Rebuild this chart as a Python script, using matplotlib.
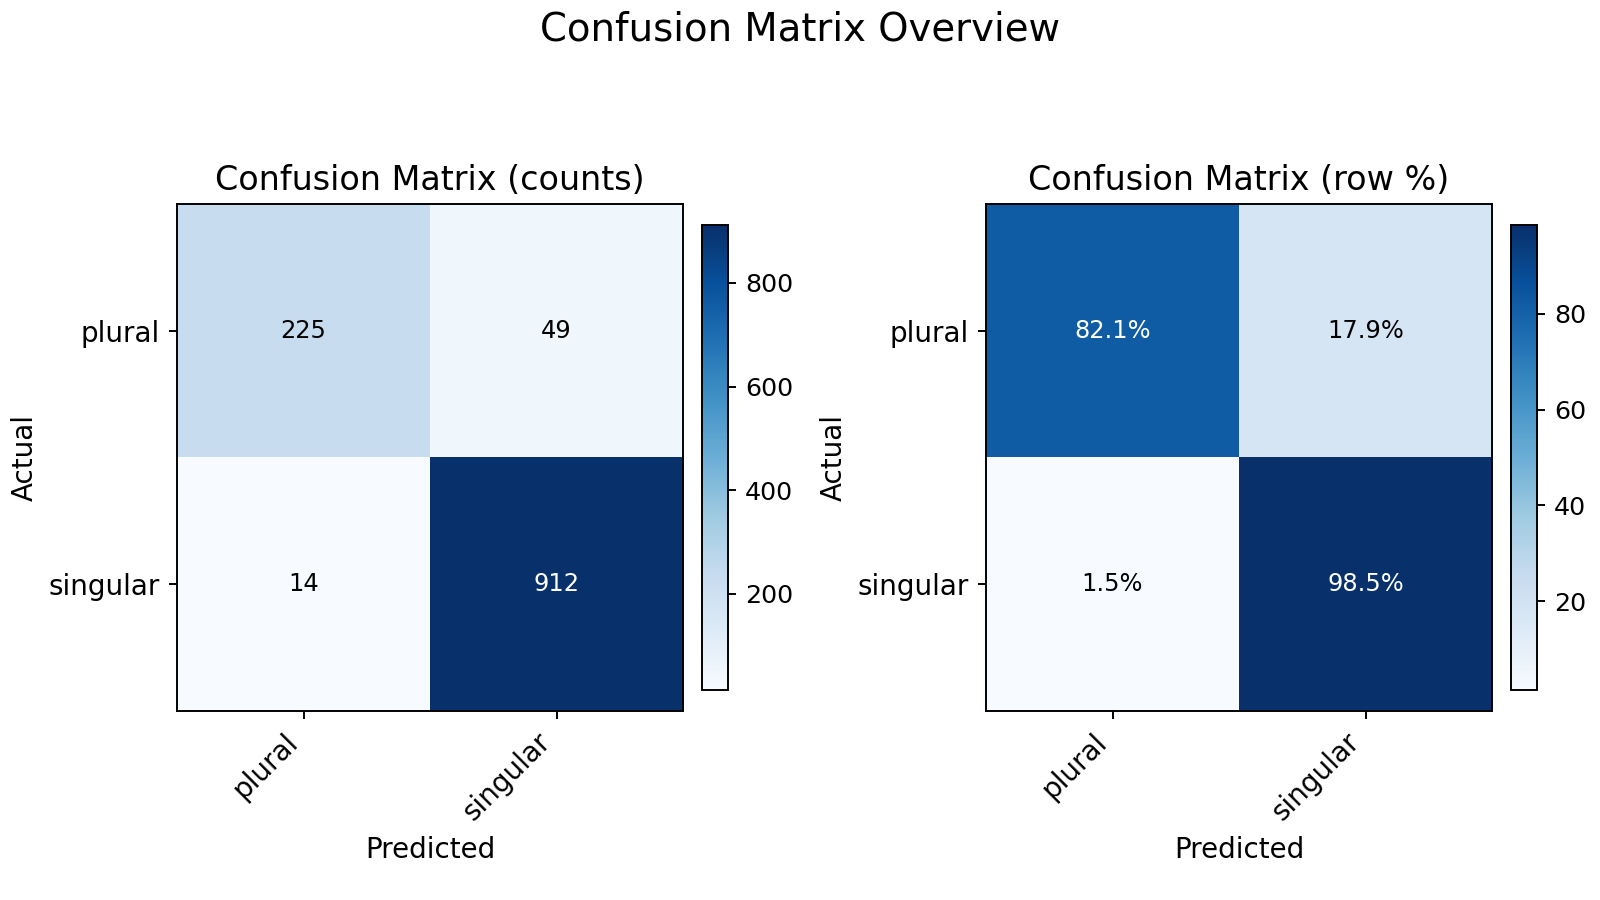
import matplotlib
matplotlib.use("Agg")
import matplotlib.pyplot as plt
from matplotlib.ticker import MaxNLocator
import numpy as np

labels = ["plural", "singular"]
counts = np.array([[225, 49],
                   [14, 912]])
row_pct = counts / counts.sum(axis=1, keepdims=True) * 100

W, H = 1600, 900
DPI = 174
fig = plt.figure(figsize=(W / DPI, H / DPI), dpi=DPI)

# panel boxes in pixels: (left, top, width, height)
ax_boxes = [(177, 204, 506, 507), (986, 204, 506, 507)]
cb_boxes = [(702, 225, 26, 465), (1511, 225, 26, 465)]


def px_axes(box):
    l, t, w, h = box
    return fig.add_axes([l / W, 1 - (t + h) / H, w / W, h / H])


panels = [
    (counts, "Confusion Matrix (counts)", lambda v: "%d" % v),
    (row_pct, "Confusion Matrix (row %)", lambda v: "%.1f%%" % v),
]

for abox, cbox, (mat, title, fmt) in zip(ax_boxes, cb_boxes, panels):
    ax = px_axes(abox)
    cax = px_axes(cbox)
    im = ax.imshow(mat, cmap="Blues", aspect="auto")
    cbar = fig.colorbar(im, cax=cax)
    cbar.ax.yaxis.set_major_locator(MaxNLocator(5))
    cbar.ax.tick_params(labelsize=10.5)
    ax.set_title(title, fontsize=13.8)
    ax.set_xticks(range(len(labels)))
    ax.set_yticks(range(len(labels)))
    ax.set_xticklabels(labels, rotation=45, ha="right", fontsize=11.5)
    ax.set_yticklabels(labels, fontsize=11.5)
    ax.set_xlabel("Predicted", fontsize=11.5)
    ax.set_ylabel("Actual", fontsize=11.5)
    thresh = mat.max() / 2
    for i in range(mat.shape[0]):
        for j in range(mat.shape[1]):
            ax.text(j, i, fmt(mat[i, j]), ha="center", va="center",
                    color="white" if mat[i, j] > thresh else "black", fontsize=10)

fig.suptitle("Confusion Matrix Overview", fontsize=16, y=0.988)
fig.savefig("out.png")
